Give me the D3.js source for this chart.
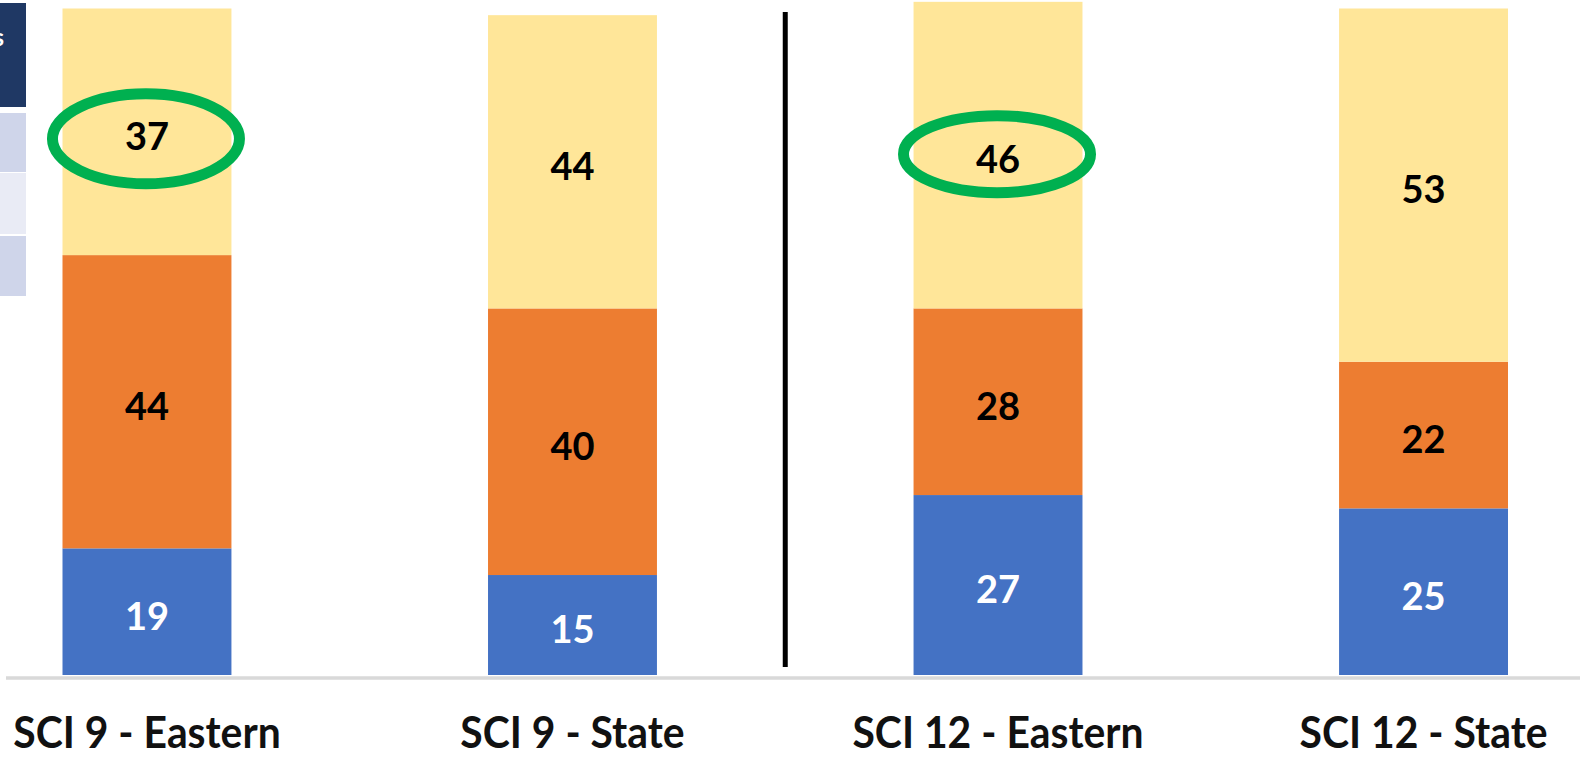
<!DOCTYPE html>
<html>
<head>
<meta charset="utf-8">
<script src="https://cdn.jsdelivr.net/npm/d3@7"></script>
<style>
  html, body { margin: 0; padding: 0; background: #ffffff; }
  svg { display: block; }
</style>
</head>
<body>
<svg id="chart" width="1580" height="757"></svg>
<script>
// ---- Data ----
const categories = ["SCI 9 - Eastern", "SCI 9 - State", "SCI 12 - Eastern", "SCI 12 - State"];
const level1 = [19, 15, 27, 25];   // bottom (blue)
const level2 = [44, 40, 28, 22];   // middle (orange)
const level3 = [37, 44, 46, 53];   // top (yellow)
const seriesNames = ["level1", "level2", "level3"];
const seriesColors = ["#4472C4", "#ED7D31", "#FFE699"];
const labelColors = ["#ffffff", "#000000", "#000000"];
const highlighted = ["SCI 9 - Eastern", "SCI 12 - Eastern"];

const rows = categories.map((c, i) => ({ cat: c, level1: level1[i], level2: level2[i], level3: level3[i] }));

const svg = d3.select("#chart");
const W = 1580, H = 757;

const x = d3.scaleBand().domain(categories).range([62.5, 1508]).paddingInner(0.603).paddingOuter(0);
const y = d3.scaleLinear().domain([0, 100]).range([675, 8.5]);

// partial table at left edge
const tbl = svg.append("g");
tbl.append("rect").attr("x", 0).attr("y", 3).attr("width", 26).attr("height", 104).attr("fill", "#1F3864");
tbl.append("text").attr("x", 4).attr("y", 46).attr("text-anchor", "end")
  .attr("font-family", "Lato, sans-serif").attr("font-weight", 700).attr("font-size", 24)
  .attr("fill", "#ffffff").text("Levels");
[[113, 59, "#CFD5EA"], [173, 61, "#E9EBF5"], [236, 60, "#CFD5EA"]].forEach(r => {
  tbl.append("rect").attr("x", 0).attr("y", r[0]).attr("width", 26).attr("height", r[1]).attr("fill", r[2]);
});

// stacked bars
const stack = d3.stack().keys(seriesNames);
const stacked = stack(rows);

const groups = svg.append("g").selectAll("g").data(stacked).join("g")
  .attr("fill", (d, i) => seriesColors[i]);

groups.selectAll("rect").data(d => d.map(p => ({ p, cat: p.data.cat }))).join("rect")
  .attr("x", d => x(d.cat))
  .attr("y", d => y(d.p[1]))
  .attr("width", x.bandwidth())
  .attr("height", d => y(d.p[0]) - y(d.p[1]));

// value labels
stacked.forEach((s, si) => {
  svg.append("g").selectAll("text").data(s).join("text")
    .attr("x", d => x(d.data.cat) + x.bandwidth() / 2)
    .attr("y", d => (y(d[0]) + y(d[1])) / 2 + 3)
    .attr("text-anchor", "middle")
    .attr("dominant-baseline", "central")
    .attr("font-family", "Lato, sans-serif")
    .attr("font-weight", 700)
    .attr("font-size", 38)
    .attr("fill", labelColors[si])
    .text(d => d[1] - d[0]);
});

// axis baseline
const xAxis = d3.axisBottom(x).tickSize(0).tickPadding(0);
const ax = svg.append("g").attr("transform", "translate(0,678)").call(xAxis);
ax.select(".domain").remove();
ax.append("line").attr("x1", 6).attr("x2", W).attr("y1", 0).attr("y2", 0)
  .attr("stroke", "#D9D9D9").attr("stroke-width", 3.5);
ax.selectAll(".tick text")
  .attr("y", 70)
  .attr("dy", 0)
  .attr("font-family", "Lato, sans-serif")
  .attr("font-weight", 700)
  .attr("font-size", 43)
  .attr("fill", "#111111")
  .each(function () {
    const len = this.getComputedTextLength();
    d3.select(this).attr("textLength", len * 0.95).attr("lengthAdjust", "spacingAndGlyphs");
  });

// divider line between SCI 9 and SCI 12
const divX = (x(categories[1]) + x.bandwidth() + x(categories[2])) / 2;
svg.append("line").attr("x1", divX).attr("x2", divX).attr("y1", 12).attr("y2", 667)
  .attr("stroke", "#000000").attr("stroke-width", 5);

// green highlight ellipses around top segment labels
const topSeries = stacked[2];
const ellSize = { "SCI 9 - Eastern": [93.5, 45], "SCI 12 - Eastern": [93.5, 38.5] };
const ellShift = { "SCI 9 - Eastern": 7, "SCI 12 - Eastern": -1 };
svg.append("g").selectAll("ellipse").data(topSeries.filter(d => highlighted.includes(d.data.cat))).join("ellipse")
  .attr("cx", d => x(d.data.cat) + x.bandwidth() / 2 - 1)
  .attr("cy", d => (y(d[0]) + y(d[1])) / 2 + ellShift[d.data.cat])
  .attr("rx", d => ellSize[d.data.cat][0])
  .attr("ry", d => ellSize[d.data.cat][1])
  .attr("fill", "none")
  .attr("stroke", "#00B050")
  .attr("stroke-width", 11);
</script>
</body>
</html>
